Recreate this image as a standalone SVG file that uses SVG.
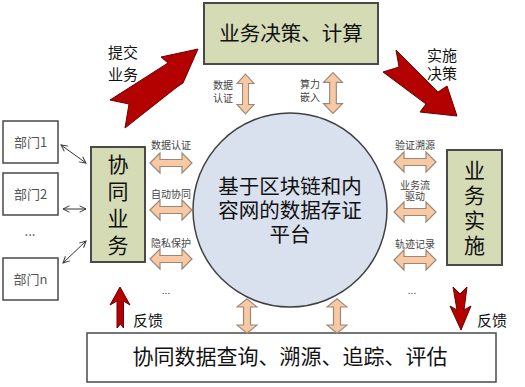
<svg xmlns="http://www.w3.org/2000/svg" width="525" height="387" viewBox="0 0 525 387">
<style>
.box{fill:#d4dbb5;stroke:#4a4a4a;stroke-width:2}
.wbox{fill:#fff;stroke:#4a4a4a;stroke-width:1.5}
.dept{fill:#fff;stroke:#4a4a4a;stroke-width:1.5}
.t{font-family:"Noto Sans CJK SC","Noto Sans",sans-serif;fill:#111}
.s{font-family:"Noto Sans CJK SC","Noto Sans",sans-serif;fill:#444;font-size:10px;text-anchor:middle}
.d{font-family:"Noto Sans CJK SC","Noto Sans",sans-serif;fill:#555;font-size:13px;text-anchor:middle}
.red{fill:#b30000;stroke:#6e0000;stroke-width:1}
.or{fill:#f8c9a3;stroke:#9a8878;stroke-width:1.2}
.con{stroke:#333;stroke-width:1;fill:none;marker-start:url(#ah);marker-end:url(#ah)}
</style>
<defs>
<marker id="ah" viewBox="0 0 10 10" refX="9" refY="5" markerWidth="8" markerHeight="8" orient="auto-start-reverse" markerUnits="userSpaceOnUse">
<path d="M1,1 L9,5 L1,9" fill="none" stroke="#333" stroke-width="1.2"/>
</marker>
<polygon id="ha" points="-21,0 -11,-10 -11,-3.5 11,-3.5 11,-10 21,0 11,10 11,3.5 -11,3.5 -11,10"/>
</defs>

<g id="top">
<rect class="box" x="204" y="3" width="174" height="61"/>
<text class="t" x="291" y="41" font-size="20.5" text-anchor="middle">业务决策、计算</text>
</g>

<g id="platform">
<circle cx="290" cy="210" r="97" fill="#d9e0ee" stroke="#404040" stroke-width="1.5"/>
<text class="t" x="290" y="194" font-size="20.5" text-anchor="middle">基于区块链和内</text>
<text class="t" x="290" y="218" font-size="20.5" text-anchor="middle">容网的数据存证</text>
<text class="t" x="290" y="242" font-size="20.5" text-anchor="middle">平台</text>
</g>

<g id="collab">
<rect class="box" x="91" y="147" width="54" height="115"/>
<text class="t" x="118" y="172" font-size="21" text-anchor="middle">协</text>
<text class="t" x="118" y="199" font-size="21" text-anchor="middle">同</text>
<text class="t" x="118" y="226" font-size="21" text-anchor="middle">业</text>
<text class="t" x="118" y="253" font-size="21" text-anchor="middle">务</text>
</g>

<g id="impl">
<rect class="box" x="447" y="150" width="55" height="115"/>
<text class="t" x="474.5" y="178" font-size="21" text-anchor="middle">业</text>
<text class="t" x="474.5" y="203" font-size="21" text-anchor="middle">务</text>
<text class="t" x="474.5" y="228" font-size="21" text-anchor="middle">实</text>
<text class="t" x="474.5" y="253" font-size="21" text-anchor="middle">施</text>
</g>

<g id="query">
<rect class="wbox" x="87" y="333" width="409" height="49"/>
<text class="t" x="290" y="364" font-size="21" text-anchor="middle">协同数据查询、溯源、追踪、评估</text>
</g>

<g id="dept1">
<rect class="dept" x="3" y="121" width="55" height="42"/>
<text class="d" x="30.5" y="147">部门1</text>
</g>
<g id="dept2">
<rect class="dept" x="3" y="173" width="55" height="42"/>
<text class="d" x="30.5" y="199">部门2</text>
</g>
<g id="deptdots">
<text class="d" x="30" y="236">...</text>
</g>
<g id="deptn">
<rect class="dept" x="3" y="258" width="55" height="42"/>
<text class="d" x="30.5" y="284">部门n</text>
</g>

<g id="connectors">
<line class="con" x1="61" y1="145" x2="86" y2="163"/>
<line class="con" x1="63" y1="209" x2="86" y2="209"/>
<line class="con" x1="63" y1="263" x2="86" y2="241"/>

<polygon class="red" points="110,100 168,63 161,57 198,49 183,83 177,87 125,128 129,104"/>
<polygon class="red" points="396,50 438,92 447,86 457,116 420,112 426,104 383,72 399,67"/>
<polygon class="red" points="120,287 130,305 123.5,301 123.5,328 120.5,324 117,328 117,301 110,305"/>
<polygon class="red" points="453,287 460,294 467,287 464,310 471,306 461,330 450,306 457,310"/>

<use href="#ha" class="or" transform="translate(245.5,94) rotate(90) scale(0.95,0.85)"/>
<use href="#ha" class="or" transform="translate(333,93) rotate(90) scale(0.97,0.95)"/>
<use href="#ha" class="or" transform="translate(171,163)"/>
<use href="#ha" class="or" transform="translate(171,210)"/>
<use href="#ha" class="or" transform="translate(171,259)"/>
<use href="#ha" class="or" transform="translate(415,162)"/>
<use href="#ha" class="or" transform="translate(415,212)"/>
<use href="#ha" class="or" transform="translate(415,260)"/>
<use href="#ha" class="or" transform="translate(247,316) rotate(90) scale(0.82,1)"/>
<use href="#ha" class="or" transform="translate(337,316) rotate(90) scale(0.82,1)"/>
</g>

<g id="labels">
<text class="t" x="108" y="58" font-size="15">提交</text>
<text class="t" x="108" y="80" font-size="15">业务</text>
<text class="t" x="427" y="61" font-size="15">实施</text>
<text class="t" x="427" y="79" font-size="15">决策</text>
<text class="t" x="133" y="326" font-size="15">反馈</text>
<text class="t" x="477" y="326" font-size="15">反馈</text>
<text class="s" x="223" y="89">数据</text>
<text class="s" x="223" y="102">认证</text>
<text class="s" x="310" y="88">算力</text>
<text class="s" x="310" y="101">嵌入</text>
<text class="s" x="171" y="149">数据认证</text>
<text class="s" x="171" y="198">自动协同</text>
<text class="s" x="171" y="247">隐私保护</text>
<text class="s" x="166" y="294">...</text>
<text class="s" x="415" y="149">验证溯源</text>
<text class="s" x="415" y="189">业务流</text>
<text class="s" x="415" y="200">驱动</text>
<text class="s" x="415" y="248">轨迹记录</text>
<text class="s" x="412" y="294">...</text>
</g>
</svg>
